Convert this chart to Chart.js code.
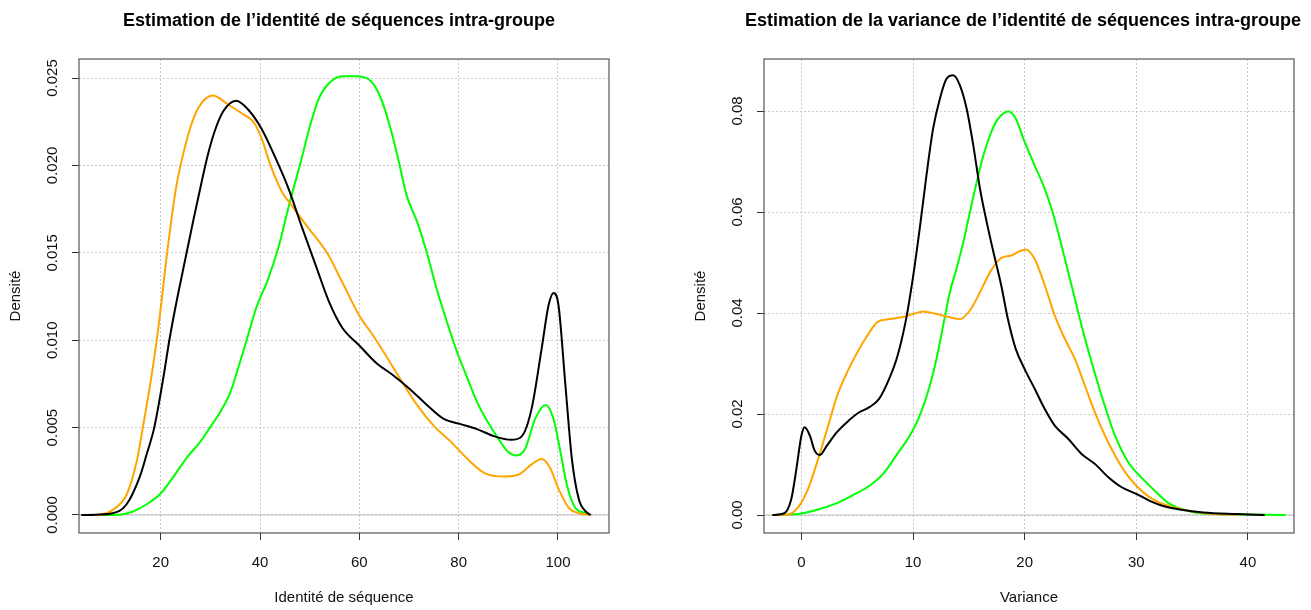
<!DOCTYPE html>
<html lang="fr">
<head>
<meta charset="utf-8">
<title>Estimation de l’identité de séquences intra-groupe</title>
<script src="https://cdn.jsdelivr.net/npm/chart.js@4.4.1/dist/chart.umd.min.js"></script>
<style>
	html, body { margin: 0; padding: 0; background: #fff; overflow: hidden; }
	body { position: relative; width: 1311px; height: 610px; }
	canvas { position: absolute; top: 0; }
	#identity-chart { left: 0; }
	#variance-chart { left: 655px; }
</style>
</head>
<body>
<canvas id="identity-chart" width="678" height="610"></canvas>
<canvas id="variance-chart" width="736" height="610"></canvas>
<script>
const FONT = '"Liberation Sans", Arial, Helvetica, sans-serif';

// identité de séquence : densités par groupe, [x, densité]
const identityBlack = [
	[4, 0], [7, 0.00002], [10.3, 0.0001], [13.1, 0.0006], [15.8, 0.0022], [17.2, 0.0035],
	[18.7, 0.0050], [20.5, 0.0078], [21.8, 0.0101], [23.4, 0.0125], [25.0, 0.0147],
	[26.6, 0.0169], [28.2, 0.0190], [29.4, 0.0205], [30.8, 0.0219], [32.6, 0.0231],
	[35.2, 0.0237], [37.6, 0.0232], [40.3, 0.0221], [43.0, 0.0205], [45.7, 0.0187],
	[48.4, 0.0165], [51.2, 0.0143], [53.9, 0.0122], [56.6, 0.0107], [60.0, 0.0097],
	[63.4, 0.0087], [66.8, 0.0080], [70.2, 0.0072], [73.6, 0.0063], [77.0, 0.0055],
	[80.4, 0.0052], [83.8, 0.0049], [87.2, 0.0045], [90.6, 0.0043], [92.7, 0.0045],
	[94.7, 0.0061], [96.7, 0.0095], [98.1, 0.0120], [99.1, 0.0127], [100.1, 0.0120],
	[101.5, 0.0074], [102.8, 0.0032], [104.2, 0.0009], [105.6, 0.0002], [106.6, 0]
];
const identityOrange = [
	[6, 0], [8, 0.00003], [10.4, 0.0003], [13.2, 0.0012], [15.2, 0.0031], [16.4, 0.0050],
	[17.9, 0.0075], [19.2, 0.0100], [20.2, 0.0123], [21.2, 0.0148], [22.2, 0.0170],
	[23.2, 0.0189], [24.4, 0.0205], [25.9, 0.0221], [27.6, 0.0233], [30.5, 0.0240],
	[33.5, 0.0235], [36.2, 0.0230], [38.9, 0.0224], [40.5, 0.0214], [42.0, 0.0201],
	[44.4, 0.0185], [46.4, 0.0177], [49.8, 0.0164], [53.5, 0.0150], [56.6, 0.0133],
	[60.0, 0.0114], [62.7, 0.0103], [65.4, 0.0091], [68.2, 0.0078], [71.6, 0.0063],
	[75.0, 0.0051], [78.4, 0.0042], [81.8, 0.0032], [85.2, 0.0024], [89.3, 0.0022],
	[92.0, 0.0023], [94.7, 0.0029], [96.7, 0.0032], [98.4, 0.0027], [100.1, 0.0015],
	[102.2, 0.0004], [104.2, 0.0001], [106.3, 0]
];
const identityGreen = [
	[8.1, 0], [11.7, 0.00002], [14.4, 0.0002], [17.1, 0.0006], [19.9, 0.0012], [22.6, 0.0022],
	[25.3, 0.0033], [28.0, 0.0042], [29.9, 0.0050], [32.0, 0.0059], [34.0, 0.0070],
	[35.7, 0.0085], [37.3, 0.0100], [39.3, 0.0119], [41.5, 0.0134], [43.7, 0.0153],
	[45.9, 0.0178], [48.2, 0.0202], [50.0, 0.0222], [51.8, 0.0238], [53.9, 0.0247],
	[56.6, 0.0251], [59.3, 0.0251], [62.0, 0.0249], [64.1, 0.0240], [66.1, 0.0223],
	[67.8, 0.0204], [69.5, 0.0183], [71.6, 0.0168], [73.6, 0.0150], [75.6, 0.0129],
	[77.7, 0.0110], [79.7, 0.0093], [81.8, 0.0078], [83.8, 0.0064], [85.9, 0.0053],
	[87.9, 0.0044], [90.0, 0.0036], [91.7, 0.0034], [93.4, 0.0038], [95.4, 0.0055],
	[97.5, 0.0063], [99.1, 0.0055], [100.5, 0.0036], [101.8, 0.0017], [103.5, 0.0004],
	[105.6, 0.0001], [106.3, 0]
];
const identityXTicks = [20, 40, 60, 80, 100];
const identityYTicks = [0, 0.005, 0.01, 0.015, 0.02, 0.025];
const identityYLabels = ['0.000', '0.005', '0.010', '0.015', '0.020', '0.025'];

// variance de l'identité : densités par groupe, [x, densité]
const varianceBlack = [
	[-2.6, 0], [-1.5, 0.0004], [-0.9, 0.0032], [-0.45, 0.0091], [0, 0.0157], [0.3, 0.0174],
	[0.76, 0.0157], [1.2, 0.0127], [1.66, 0.0119], [2.27, 0.0137], [3.18, 0.0164],
	[4.24, 0.0187], [5.14, 0.0203], [6.05, 0.0213], [6.96, 0.0230], [7.87, 0.0270],
	[8.62, 0.0316], [9.38, 0.0388], [9.98, 0.0468], [10.6, 0.0567], [11.2, 0.0672],
	[11.8, 0.0765], [12.4, 0.0824], [13.0, 0.0864], [13.6, 0.0871], [14.2, 0.0851],
	[14.8, 0.0805], [15.4, 0.0732], [16.0, 0.0646], [16.6, 0.0580], [17.2, 0.0521],
	[17.9, 0.0455], [18.5, 0.0388], [19.2, 0.0329], [20.0, 0.0289], [20.9, 0.0250],
	[21.8, 0.0210], [22.7, 0.0177], [23.9, 0.0151], [25.1, 0.0121], [26.3, 0.0101],
	[27.5, 0.0075], [28.7, 0.0055], [30.0, 0.0042], [31.2, 0.0028], [32.4, 0.0018],
	[33.9, 0.0011], [36.0, 0.0005], [39.0, 0.0002], [41.5, 0]
];
const varianceOrange = [
	[-2.6, 0], [-1.2, 0.0001], [-0.3, 0.0015], [0.6, 0.0052], [1.5, 0.0111], [2.4, 0.0177],
	[3.2, 0.0236], [4.1, 0.0283], [5.0, 0.0322], [5.9, 0.0355], [6.8, 0.0382],
	[7.9, 0.0388], [9.1, 0.0392], [10.0, 0.0398], [10.9, 0.0403], [12.1, 0.0398],
	[13.2, 0.0392], [14.2, 0.0388], [15.1, 0.0405], [16.0, 0.0441], [16.9, 0.0481],
	[17.9, 0.0509], [18.8, 0.0514], [19.5, 0.0522], [20.1, 0.0526], [20.9, 0.0507],
	[21.8, 0.0455], [22.7, 0.0395], [23.6, 0.0349], [24.5, 0.0309], [25.4, 0.0256],
	[26.3, 0.0203], [27.2, 0.0157], [28.1, 0.0118], [29.0, 0.0085], [30.0, 0.0058],
	[31.2, 0.0035], [32.4, 0.0022], [33.9, 0.0012], [36.0, 0.0004], [38.1, 0.0001], [39.0, 0]
];
const varianceGreen = [
	[-2.4, 0], [0, 0.0003], [1.5, 0.0011], [3.0, 0.0022], [4.5, 0.0038], [6.1, 0.0058],
	[7.3, 0.0081], [8.5, 0.0118], [9.7, 0.0157], [10.6, 0.0197], [11.5, 0.0256],
	[12.1, 0.0309], [12.7, 0.0375], [13.3, 0.0441], [13.9, 0.0488], [14.5, 0.0540],
	[15.1, 0.0600], [15.7, 0.0659], [16.3, 0.0712], [16.9, 0.0752], [17.5, 0.0781],
	[18.2, 0.0797], [18.6, 0.0799], [19.2, 0.0785], [20.0, 0.0739], [20.9, 0.0692],
	[21.8, 0.0646], [22.5, 0.0600], [23.3, 0.0534], [24.2, 0.0455], [25.1, 0.0375],
	[26.0, 0.0303], [26.9, 0.0236], [28.1, 0.0157], [29.3, 0.0104], [30.6, 0.0071],
	[31.8, 0.0045], [33.0, 0.0022], [34.5, 0.0009], [36.0, 0.0003], [39.0, 0.0001], [43.4, 0]
];
const varianceXTicks = [0, 10, 20, 30, 40];
const varianceYTicks = [0, 0.02, 0.04, 0.06, 0.08];
const varianceYLabels = ['0.00', '0.02', '0.04', '0.06', '0.08'];

// base-graphics look: closed box, gray zero line, y labels written along the axis
const rFrame = {
	id: 'rFrame',
	beforeDatasetsDraw(chart) {
		const {ctx, chartArea: a, scales: {y}} = chart;
		const y0 = y.getPixelForValue(0);
		ctx.save();
		ctx.strokeStyle = '#bebebe';
		ctx.lineWidth = 1;
		ctx.beginPath();
		ctx.moveTo(a.left, y0);
		ctx.lineTo(a.right, y0);
		ctx.stroke();
		ctx.restore();
	},
	afterDraw(chart) {
		const {ctx, chartArea: a, scales: {y}} = chart;
		ctx.save();
		ctx.strokeStyle = '#555';
		ctx.lineWidth = 1.2;
		ctx.strokeRect(a.left, a.top, a.right - a.left, a.bottom - a.top);

		ctx.fillStyle = '#111';
		ctx.font = '15px ' + FONT;
		ctx.textAlign = 'center';
		ctx.textBaseline = 'middle';
		y.ticks.forEach(t => {
			ctx.save();
			ctx.translate(a.left - 26, y.getPixelForValue(t.value));
			ctx.rotate(-Math.PI / 2);
			ctx.fillText(t.label, 0, 0);
			ctx.restore();
		});
		ctx.restore();
	}
};

const gridOpts = {color: '#c8c8c8', lineWidth: 1, tickColor: '#333', tickLength: 7};
const axisFont = {family: FONT, size: 15};

function densityChart(canvasId, cfg) {
	return new Chart(document.getElementById(canvasId), {
		type: 'line',
		data: {
			datasets: cfg.series.map(([data, color]) => ({
				data: data.map(([x, y]) => ({x, y})),
				borderColor: color,
				borderWidth: 2,
				pointRadius: 0,
				cubicInterpolationMode: 'monotone',
				fill: false
			}))
		},
		options: {
			responsive: false,
			animation: false,
			events: [],
			layout: {padding: 0},
			plugins: {
				legend: {display: false},
				tooltip: {enabled: false},
				title: {
					display: true,
					text: cfg.title,
					color: '#000',
					font: {family: FONT, size: 18, weight: 'bold', lineHeight: 1.2},
					padding: {top: 10, bottom: 27.4}
				}
			},
			scales: {
				x: {
					type: 'linear',
					min: cfg.xRange[0],
					max: cfg.xRange[1],
					afterBuildTicks: s => { s.ticks = cfg.xTicks.map(value => ({value})); },
					afterFit: s => { s.height = 77; },
					grid: gridOpts,
					border: {display: false, dash: [2, 2]},
					ticks: {color: '#111', font: axisFont, padding: 14, maxRotation: 0, autoSkip: false},
					title: {display: true, text: cfg.xTitle, color: '#111', font: axisFont, padding: {top: 0, bottom: 3}}
				},
				y: {
					type: 'linear',
					min: cfg.yRange[0],
					max: cfg.yRange[1],
					afterBuildTicks: s => { s.ticks = cfg.yTicks.map(value => ({value})); },
					afterFit: s => { s.width = cfg.yWidth; },
					grid: gridOpts,
					border: {display: false, dash: [2, 2]},
					ticks: {display: false, callback: (v, i) => cfg.yLabels[i]},
					title: {display: true, text: 'Densité', color: '#111', font: axisFont, padding: {top: cfg.yTitlePad, bottom: 0}}
				},
				// empty right margin so the title centres over the plot
				gutter: {
					type: 'linear',
					position: 'right',
					grid: {display: false},
					ticks: {display: false},
					border: {display: false},
					afterFit: s => { s.width = cfg.gutter; }
				}
			}
		},
		plugins: [rFrame]
	});
}

densityChart('identity-chart', {
	title: 'Estimation de l’identité de séquences intra-groupe',
	xTitle: 'Identité de séquence',
	series: [[identityBlack, '#000000'], [identityOrange, '#ffa500'], [identityGreen, '#00ff00']],
	xRange: [3.55, 110.27],
	yRange: [-0.00103, 0.02609],
	xTicks: identityXTicks,
	yTicks: identityYTicks,
	yLabels: identityYLabels,
	yWidth: 79,
	yTitlePad: 7,
	gutter: 69
});

densityChart('variance-chart', {
	title: 'Estimation de la variance de l’identité de séquences intra-groupe',
	xTitle: 'Variance',
	series: [[varianceBlack, '#000000'], [varianceOrange, '#ffa500'], [varianceGreen, '#00ff00']],
	xRange: [-3.35, 44.13],
	yRange: [-0.00356, 0.0903],
	xTicks: varianceXTicks,
	yTicks: varianceYTicks,
	yLabels: varianceYLabels,
	yWidth: 109,
	yTitlePad: 37,
	gutter: 97
});
</script>
</body>
</html>
